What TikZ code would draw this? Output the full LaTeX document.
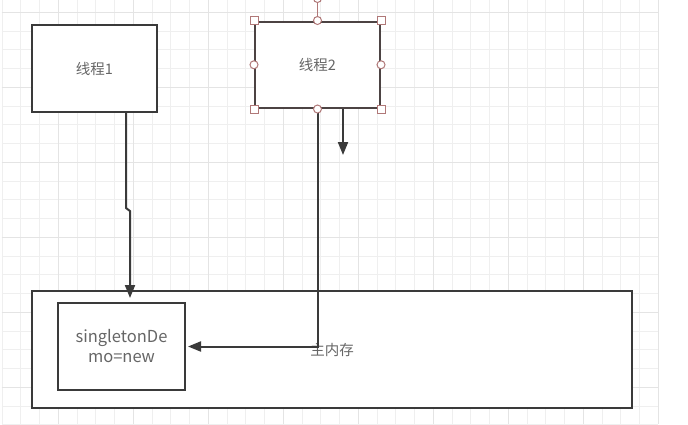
\documentclass[tikz,border=0pt]{standalone}
\usepackage{fontspec}
\setmainfont{Noto Sans CJK SC}
\usetikzlibrary{arrows.meta,positioning,calc}
\definecolor{ink}{HTML}{3A3A3A}
\definecolor{txt}{HTML}{666666}
\definecolor{handle}{HTML}{B07878}
\definecolor{gridminor}{HTML}{EFEFEF}
\definecolor{gridmajor}{HTML}{E4E4E4}

\begin{document}
\begin{tikzpicture}[x=1pt,y=-1pt,font=\fontsize{14.5}{20}\selectfont,
  box/.style={draw=ink,line width=2pt,fill=white,text=txt,align=center,inner sep=0pt},
  wire/.style={ink,line width=2pt,-{Triangle[length=13pt,width=10pt]}},
  sqhandle/.style={draw=handle,fill=white,line width=1pt,minimum size=8pt,inner sep=0pt},
  cirhandle/.style={circle,draw=handle,fill=white,line width=1pt,minimum size=8pt,inner sep=0pt}]
\useasboundingbox (0,0) rectangle (688,424);
\fill[white] (0,0) rectangle (688,424);
% background grid
\foreach \i in {0,...,35} {\draw[gridminor] (1.75+\i*18.75,0)--(1.75+\i*18.75,424);}
\foreach \j in {0,...,22} {\draw[gridminor] (1.75,12+\j*18.75)--(658,12+\j*18.75);}
\foreach \i in {0,...,8} {\draw[gridmajor] (58+\i*75,0)--(58+\i*75,424);}
\foreach \j in {0,...,5} {\draw[gridmajor] (1.75,12+\j*75)--(658,12+\j*75);}
% boxes
\node[box,minimum width=600,minimum height=117] (mem) at (332,349.5) {主内存};
\node[box,minimum width=127,minimum height=87,font=\fontsize{16.5}{20}\selectfont] (obj) at (121.5,346.5) {singletonDe\\mo=new};
\node[box,minimum width=125,minimum height=87] (thread1) at (94.5,68.5) {线程1};
\node[box,draw=ink!85!handle,minimum width=125,minimum height=86.5] (thread2) at (317.5,64.75) {线程2};
% connectors
\draw[wire,shorten >=4pt] ([xshift=31.5pt]thread1.south) -- ++(0,95) -- ++(4,3) -- ([xshift=8.5pt]obj.north);
\draw[wire,shorten >=2pt] (thread2.south) |- (obj.east);
\coordinate (drop) at (343,155);
\draw[wire] ([xshift=25.5pt]thread2.south) -- (drop);
% selection handles
\node[cirhandle] (rot) at ($(thread2.north)+(0,-22)$) {};
\draw[handle,line width=1pt] (rot) -- (thread2.north);
\foreach \a [count=\k] in {north west,north east,south west,south east} {\node[sqhandle] (sq\k) at (thread2.\a) {};}
\foreach \a [count=\k] in {north,south,east,west} {\node[cirhandle] (ci\k) at (thread2.\a) {};}
\end{tikzpicture}
\end{document}
